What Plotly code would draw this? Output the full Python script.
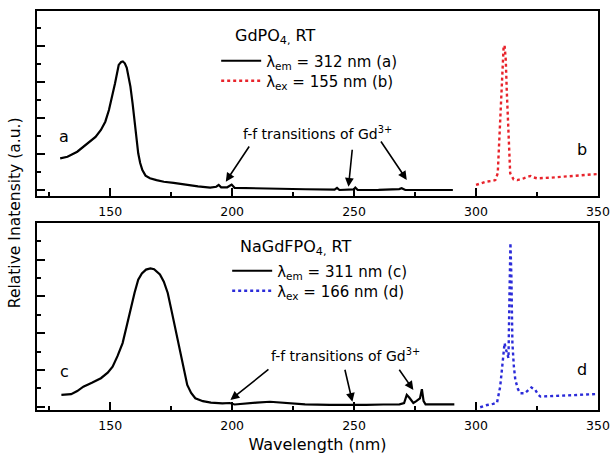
import plotly.graph_objects as go

# ---- Data ----
# Panel 1: GdPO4, RT
a_x = [129.5, 132.5, 136.5, 139, 141.5, 144, 146.2, 148, 149.5, 151, 152, 153.5, 154.5, 155.2, 156, 156.8,
       157.5, 158.3, 159.2, 160, 160.8, 161.5, 162.3, 163.2, 164.5, 166.3, 169, 172, 176, 181.7, 186, 191,
       193.5, 194.5, 195.5, 198, 199.8, 201, 206, 217, 230, 242, 243, 244, 249.8, 250.5, 251.5, 260,
       268.5, 269.5, 271, 280, 290.5]
a_y = [1.76, 1.85, 2.13, 2.4, 2.69, 2.95, 3.34, 3.8, 4.45, 5.3, 5.94, 6.96, 7.12, 7.15, 7.05, 6.8,
       6.3, 5.75, 4.8, 3.9, 2.9, 2.04, 1.5, 1.11, 0.8, 0.65, 0.55, 0.46, 0.4, 0.28, 0.2, 0.13,
       0.18, 0.28, 0.15, 0.15, 0.3, 0.12, 0.1, 0.07, 0.04, 0.02, 0.12, 0.0, 0.03, 0.13, 0.0, 0.01,
       0.05, 0.1, 0.0, 0.0, 0.0]
b_x = [300, 302, 304, 306.5, 307.9, 308.9, 309.8, 310.6, 311.3, 311.7, 312.2, 312.6, 313.2, 314, 315.4,
       317, 319.5, 321, 322.3, 323.5, 325, 330, 336, 343, 350]
b_y = [0.28, 0.35, 0.46, 0.5, 0.55, 0.93, 3.5, 6.5, 7.97, 8.05, 7.2, 5.5, 3.0, 0.93, 0.59,
       0.55, 0.65, 0.7, 0.78, 0.7, 0.65, 0.68, 0.74, 0.8, 0.89]

# Panel 2: NaGdFPO4, RT
c_x = [130, 132, 134, 136.5, 139, 142.5, 146.2, 149, 151, 153, 155.1, 156.8, 158.3, 160, 161.5, 163,
       164.7, 166.5, 168, 170.4, 172, 173.6, 175.2, 176.8, 178, 179.2, 180.5, 181.6, 183.2, 184.9, 188,
       191.3, 196, 199, 201, 205, 210, 215.5, 221, 229.9, 240, 249.3, 255, 262, 268.6, 270.5, 271.6,
       272.6, 273.5, 274.3, 275.5, 277, 277.8, 278.5, 279.3, 285, 291.1]
c_y = [0.64, 0.64, 0.68, 0.85, 1.09, 1.3, 1.55, 1.85, 2.18, 2.75, 3.46, 4.4, 5.28, 6.2, 6.91, 7.25,
       7.46, 7.52, 7.48, 7.19, 6.8, 6.19, 5.2, 4.18, 3.3, 2.55, 1.8, 1.18, 0.75, 0.46, 0.3,
       0.22, 0.18, 0.2, 0.12, 0.15, 0.22, 0.27, 0.22, 0.13, 0.1, 0.09, 0.1, 0.12, 0.13, 0.2, 0.64,
       0.5, 0.3, 0.2, 0.3, 0.45, 0.95, 0.3, 0.13, 0.12, 0.13]
d_x = [301.7, 304.5, 307, 308.6, 309.9, 311.0, 311.7, 312.3, 312.9, 313.3, 313.7, 314.1, 314.5, 314.9,
       315.5, 316.1, 317.2, 318.2, 320, 321.5, 322.7, 324.3, 325.5, 326.4, 331.9, 340, 350]
d_y = [-0.03, 0.09, 0.15, 0.22, 1.09, 2.73, 3.46, 3.1, 2.7, 2.64, 6.0, 8.91, 7.0, 3.46,
       2.2, 1.46, 0.95, 0.73, 0.73, 0.9, 1.05, 0.91, 0.65, 0.55, 0.58, 0.62, 0.69]

x_tick_vals = [150, 200, 250, 300, 350]
x_tick_text = ["150", "200", "250", "300", "350"]

FONT = "DejaVu Sans"
RED = "#e8232b"
BLUE = "#2b2bd9"

fig = go.Figure()
fig.add_trace(go.Scatter(x=a_x, y=a_y, mode="lines", line=dict(color="black", width=2.2),
                         name="λ<sub>em</sub> = 312 nm (a)", xaxis="x", yaxis="y", legend="legend",
                         showlegend=True))
fig.add_trace(go.Scatter(x=b_x, y=b_y, mode="lines", line=dict(color=RED, width=2.4, dash="3px,3px"),
                         name="λ<sub>ex</sub> = 155 nm (b)", xaxis="x", yaxis="y", legend="legend2",
                         showlegend=True))
fig.add_trace(go.Scatter(x=c_x, y=c_y, mode="lines", line=dict(color="black", width=2.2),
                         name="λ<sub>em</sub> = 311 nm (c)", xaxis="x2", yaxis="y2", legend="legend3",
                         showlegend=True))
fig.add_trace(go.Scatter(x=d_x, y=d_y, mode="lines", line=dict(color=BLUE, width=2.4, dash="3px,3px"),
                         name="λ<sub>ex</sub> = 166 nm (d)", xaxis="x2", yaxis="y2", legend="legend4",
                         showlegend=True))

xcommon = dict(range=[120, 350], showline=True, linecolor="black", linewidth=2, mirror=True,
               ticks="inside", ticklen=8, tickwidth=1.5, tickcolor="black", automargin=False,
               tickvals=x_tick_vals, ticktext=x_tick_text, showgrid=False, zeroline=False,
               ticklabelstandoff=3,
               tickfont=dict(family=FONT, size=12.5, color="black"),
               minor=dict(ticks="inside", ticklen=4, tickwidth=1.5, tickcolor="black", dtick=25, tick0=0))
ycommon = dict(showline=True, linecolor="black", linewidth=2, mirror=True, automargin=False,
               ticks="inside", ticklen=8, tickwidth=1.5, tickcolor="black", dtick=2, tick0=0,
               showticklabels=False, showgrid=False, zeroline=False,
               minor=dict(ticks="inside", ticklen=4, tickwidth=1.5, tickcolor="black", dtick=1, tick0=0))

def leg(x, y):
    return dict(x=x, y=y, xanchor="left", yanchor="middle", bgcolor="rgba(0,0,0,0)",
                font=dict(family=FONT, size=15), itemwidth=40, borderwidth=0, visible=True)

fig.update_layout(
    width=614, height=454,
    showlegend=True,
    margin=dict(l=37, r=16, t=11, b=44, autoexpand=False),
    paper_bgcolor="white", plot_bgcolor="white",
    font=dict(family=FONT, color="black"),
    xaxis=dict(**xcommon, anchor="y"),
    yaxis=dict(**ycommon, domain=[0.537, 1.0], range=[-0.32, 9.96], anchor="x"),
    xaxis2=dict(**xcommon, anchor="y2",
                title=dict(text="Wavelength (nm)", font=dict(family=FONT, size=16), standoff=10)),
    yaxis2=dict(**ycommon, domain=[0.0, 0.468], range=[-0.18, 9.98], anchor="x2"),
    legend=leg(0.3194, 0.8747),
    legend2=leg(0.3194, 0.8246),
    legend3=leg(0.339, 0.3484),
    legend4=leg(0.339, 0.2982),
)

ann = []
# Panel titles
ann.append(dict(text="GdPO<sub>4,</sub> RT", x=200.2, y=8.53, xref="x", yref="y", xanchor="left",
                yanchor="middle", showarrow=False, font=dict(family=FONT, size=16)))
ann.append(dict(text="NaGdFPO<sub>4,</sub> RT", x=202.5, y=8.64, xref="x2", yref="y2", xanchor="left",
                yanchor="middle", showarrow=False, font=dict(family=FONT, size=16)))
# Curve letters
for t, x, y, xr, yr in [("a", 131.1, 2.97, "x", "y"), ("b", 343.5, 2.23, "x", "y"),
                        ("c", 131.1, 1.91, "x2", "y2"), ("d", 343.5, 2.0, "x2", "y2")]:
    ann.append(dict(text=t, x=x, y=y, xref=xr, yref=yr, showarrow=False,
                    font=dict(family=FONT, size=16)))
# f-f transitions labels
ann.append(dict(text="f-f transitions of Gd<sup>3+</sup>", x=235.1, y=3.15, xref="x", yref="y",
                showarrow=False, font=dict(family=FONT, size=14)))
ann.append(dict(text="f-f transitions of Gd<sup>3+</sup>", x=246.6, y=2.82, xref="x2", yref="y2",
                showarrow=False, font=dict(family=FONT, size=14)))
# Arrows (head, tail)
arrows_top = [((197.4, 0.46), (207.4, 2.5)), ((247.7, 0.18), (249.3, 2.32)), ((271.6, 0.56), (260.6, 2.78))]
arrows_bot = [((199.3, 0.37), (215.5, 2.09)), ((249.3, 0.27), (246.1, 2.09)), ((274.3, 0.91), (268.1, 2.09))]
for (hx, hy), (tx, ty) in arrows_top:
    ann.append(dict(x=hx, y=hy, ax=tx, ay=ty, xref="x", yref="y", axref="x", ayref="y", text="",
                    showarrow=True, arrowhead=2, arrowsize=1.1, arrowwidth=1.6, arrowcolor="black"))
for (hx, hy), (tx, ty) in arrows_bot:
    ann.append(dict(x=hx, y=hy, ax=tx, ay=ty, xref="x2", yref="y2", axref="x2", ayref="y2", text="",
                    showarrow=True, arrowhead=2, arrowsize=1.1, arrowwidth=1.6, arrowcolor="black"))
# Shared y-axis title
ann.append(dict(text="Relative Inatensity (a.u.)", x=-0.0388, y=0.494, xref="paper", yref="paper",
                textangle=-90, showarrow=False, xanchor="center", yanchor="middle",
                font=dict(family=FONT, size=15.5)))
fig.update_layout(annotations=ann)

# Remove the browser's default 8px body margin so the 614x454 figure fills the window exactly.
fig.write_html("out.html", config={"displayModeBar": False},
               post_script="document.body.style.margin='0';document.body.style.overflow='hidden';")
